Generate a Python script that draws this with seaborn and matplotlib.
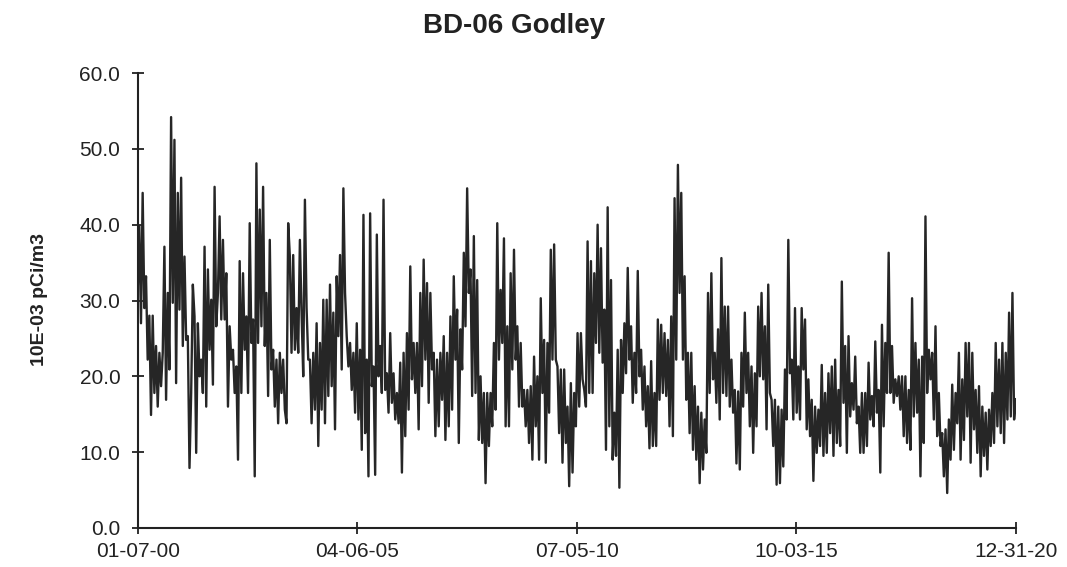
import pandas as pd
import numpy as np
import matplotlib.pyplot as plt
import matplotlib.dates as mdates
import seaborn as sns

# Weekly gross beta values, split by stretch of years
conc_2000_03 = [
    31.0, 39.8, 27.0, 44.2, 29.0, 33.2, 22.2, 28.0, 14.9, 28.0, 17.8, 24.0,
    16.0, 23.1, 18.7, 23.1, 37.1, 16.9, 31.0, 20.9, 54.2, 29.7, 51.2, 19.1,
    44.2, 28.8, 46.2, 24.0, 35.8, 24.8, 25.3, 7.9, 17.8, 32.1, 27.9, 9.9,
    27.0, 20.0, 22.2, 17.8, 37.1, 16.0, 34.1, 23.5, 30.1, 18.9, 45.0, 26.6,
    31.0, 41.1, 27.5, 38.0, 27.5, 33.6, 16.0, 26.6, 22.2, 23.5, 17.8, 21.3,
    9.0, 35.2, 17.8, 33.6, 23.5, 27.9, 17.8, 40.2, 24.4, 27.5, 6.8, 48.1,
    24.4, 42.0, 26.6, 45.0, 24.0, 31.0, 17.4, 38.0, 20.9, 23.5, 16.0, 22.2,
    13.8, 23.1, 17.8,
]
conc_03_07 = [
    22.2, 15.6, 13.8, 40.2, 35.8, 23.1, 36.0, 23.5, 29.0, 23.1, 38.0, 28.4,
    20.0, 43.3, 29.0, 22.2, 22.2, 13.8, 23.1, 15.6, 27.0, 10.8, 24.4, 15.6,
    30.1, 13.8, 30.1, 17.4, 32.1, 18.7, 28.4, 13.0, 33.2, 25.3, 36.0, 20.9,
    44.8, 31.0, 25.3, 21.3, 24.4, 18.2, 23.1, 15.2, 27.0, 14.3, 23.5, 10.3,
    41.3, 12.5, 22.2, 6.8, 41.5, 18.7, 21.3, 7.0, 38.7, 20.0, 24.0, 17.8,
    43.3, 18.2, 20.4, 15.2, 25.7, 16.5, 20.4, 14.3, 17.8, 13.8, 21.8, 7.3,
    23.1, 12.1, 25.7, 15.6, 34.5, 19.6, 24.4, 17.8, 24.4, 13.0, 31.0, 18.7,
    35.4, 22.2, 32.3, 16.5, 31.0, 20.9,
]
conc_07_10 = [
    23.1, 12.1, 22.2, 13.4, 23.1, 16.9, 25.3, 11.6, 23.1, 13.4, 27.9, 15.6,
    33.2, 22.2, 28.8, 11.2, 26.2, 20.9, 36.3, 26.6, 44.8, 31.0, 34.1, 17.4,
    38.5, 17.8, 32.7, 11.6, 20.0, 11.2, 17.8, 5.9, 17.8, 10.8, 17.8, 13.4,
    24.4, 15.6, 40.2, 22.2, 31.4, 24.4, 38.2, 13.4, 26.6, 13.4, 33.6, 20.9,
    36.7, 22.2, 26.6, 16.0, 24.4, 16.0, 18.2, 13.4, 18.2, 11.2, 18.7, 9.0,
    22.6, 13.4, 20.0, 9.0, 30.3, 17.8, 24.8, 8.6, 24.4, 15.2, 36.7, 22.2,
    37.4, 22.2, 21.3, 12.5, 20.9, 8.6, 20.9, 11.2, 16.0, 5.5, 19.1, 7.3,
    17.8, 13.4, 25.7, 16.0, 25.7, 19.6,
]
conc_10_14 = [
    18.2, 16.0, 37.8, 17.8, 35.2, 17.8, 33.6, 24.4, 40.0, 23.1, 36.9, 21.8,
    28.8, 10.3, 42.3, 13.4, 32.7, 9.0, 15.2, 9.5, 23.5, 5.3, 24.8, 17.8,
    27.0, 20.4, 34.3, 22.2, 26.6, 16.5, 23.1, 17.8, 33.9, 20.0, 23.5, 15.6,
    21.3, 13.4, 18.7, 10.5, 22.0, 10.8, 17.8, 10.8, 27.5, 16.9, 26.8, 17.8,
    25.7, 17.4, 24.8, 13.4, 27.9, 12.1, 43.5, 22.2, 47.9, 31.0, 44.2, 22.2,
    33.2, 16.9, 23.1, 12.5, 23.1, 10.3, 18.7, 9.0, 16.0, 5.9, 15.2, 7.7,
    14.3, 9.9, 31.0, 17.8, 33.6, 19.6, 23.1, 16.5, 26.2, 14.3, 35.6, 17.8,
    29.2, 17.4, 29.2, 16.0, 22.2, 15.2,
]
conc_14_17 = [
    18.2, 8.5, 18.0, 7.7, 23.1, 16.0, 28.4, 17.8, 23.1, 13.4, 21.3, 9.9,
    20.4, 13.4, 29.2, 20.0, 31.0, 19.6, 26.6, 13.0, 32.1, 17.8, 16.9, 10.8,
    16.9, 5.7, 16.0, 5.9, 15.6, 8.1, 20.9, 14.3, 38.0, 20.4, 22.2, 14.3,
    29.0, 15.2, 21.3, 14.3, 29.0, 20.9, 27.5, 13.0, 19.6, 12.1, 16.9, 6.2,
    16.0, 9.9, 15.6, 10.8, 21.5, 9.5, 17.8, 9.9, 20.4, 12.5, 21.3, 9.5,
    22.2, 11.2, 18.2, 10.8, 32.5, 16.5, 24.0, 9.9, 25.3, 14.7, 19.1, 15.6,
    22.6, 13.8, 16.0, 9.9, 17.8, 9.9, 17.8, 10.8, 21.8, 14.3, 17.4, 13.4,
    24.6, 15.2, 18.2, 7.3, 26.8, 13.4,
]
conc_17_20 = [
    24.4, 17.8, 36.3, 17.8, 24.0, 16.5, 19.6, 17.4, 20.0, 15.6, 20.0, 12.1,
    20.0, 11.2, 18.2, 10.3, 30.3, 14.7, 24.4, 15.2, 22.2, 6.8, 22.6, 11.2,
    41.1, 17.8, 23.5, 19.6, 23.1, 14.3, 26.6, 12.1, 17.8, 10.8, 12.5, 6.8,
    13.0, 4.6, 14.3, 9.0, 18.9, 10.3, 17.8, 13.8, 23.1, 9.0, 19.6, 11.6,
    24.4, 14.7, 24.4, 8.6, 23.1, 13.0, 18.2, 9.9, 18.7, 6.8, 16.0, 9.5,
    15.2, 7.7, 15.6, 10.8, 17.8, 11.2, 24.4, 13.4, 22.2, 12.5, 24.4, 11.2,
    23.1, 14.3, 28.4, 14.7, 31.0, 14.3, 17.0,
]

start_date = "2000-01-07"
end_date = "2020-12-31"
tick_dates = ["2000-01-07", "2005-04-06", "2010-07-05", "2015-10-03", "2020-12-31"]
y_ticks = [0, 10, 20, 30, 40, 50, 60]

conc = (conc_2000_03 + conc_03_07 + conc_07_10 + conc_10_14
        + conc_14_17 + conc_17_20)
df = pd.DataFrame({
    "date": pd.date_range(start_date, end_date, periods=len(conc)),
    "conc": conc,
})

sns.set_style("white")
plt.rcParams["font.family"] = ["Liberation Sans", "DejaVu Sans"]

fig = plt.figure(figsize=(10.67, 5.67), dpi=100)
ax = fig.add_axes([0.129, 0.069, 0.823, 0.802])

sns.lineplot(data=df, x="date", y="conc", color="#262626", linewidth=1.7, ax=ax)

ax.set_xlim(pd.Timestamp(start_date), pd.Timestamp(end_date))
ax.set_ylim(0, 60)
ax.set_yticks(y_ticks)
ax.yaxis.set_major_formatter(plt.FormatStrFormatter("%.1f"))
ax.set_xticks(pd.to_datetime(tick_dates))
ax.xaxis.set_major_formatter(mdates.DateFormatter("%m-%d-%y"))
ax.set_xlabel("")
ax.set_ylabel("")

for side in ["top", "right"]:
    ax.spines[side].set_visible(False)
for side in ["left", "bottom"]:
    ax.spines[side].set_color("#222222")
    ax.spines[side].set_linewidth(1.5)

ax.tick_params(axis="both", which="major", left=True, bottom=True,
               direction="inout", length=9, width=1.3,
               color="#222222", labelsize=15, labelcolor="#222222")
ax.tick_params(axis="y", pad=8)
ax.tick_params(axis="x", pad=6)

fig.text(0.482, 0.955, "BD-06 Godley", ha="center", va="center",
         fontsize=20, fontweight="bold", color="#222222")
fig.text(0.037, 0.471, "10E-03 pCi/m3", ha="center", va="center",
         rotation=90, fontsize=14, fontweight="bold", color="#222222")

fig.savefig("out.png", dpi=100)
plt.close()
